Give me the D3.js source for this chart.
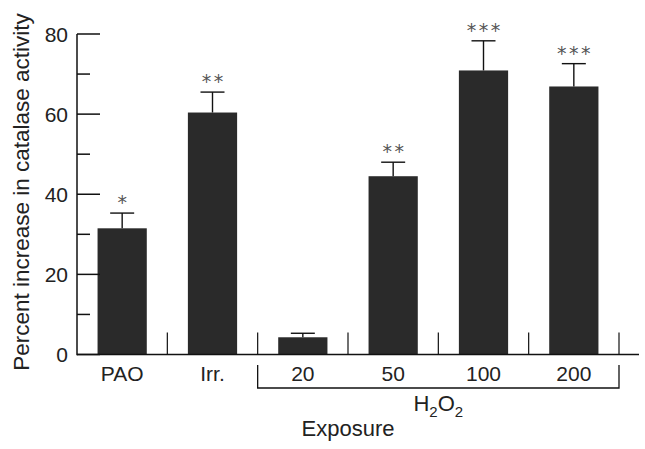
<!DOCTYPE html>
<html>
<head>
<meta charset="utf-8">
<script src="https://cdn.jsdelivr.net/npm/d3@7"></script>
<style>
  html, body { margin: 0; padding: 0; background: #fff; }
  svg { display: block; }
  text { font-family: "Liberation Sans", Arial, sans-serif; fill: #222; }
</style>
</head>
<body>
<svg id="chart" width="645" height="449"></svg>
<script>
const categories = ["PAO", "Irr.", "20", "50", "100", "200"];
const means = [31.5, 60.4, 4.3, 44.5, 70.9, 66.9];
const errors = [3.8, 5.1, 1.0, 3.5, 7.4, 5.7];
const significance = ["*", "**", "", "**", "***", "***"];
const majorTicks = [0, 20, 40, 60, 80];
const minorTicks = [10, 30, 50, 70];
const yLabel = "Percent increase in catalase activity";
const xLabel = "Exposure";
const groupCategories = ["20", "50", "100", "200"];

const svg = d3.select("#chart");
const x0 = 77, x1 = 619, axisEnd = 639;
const yTop = 34, yBottom = 354.5;

const x = d3.scaleBand().domain(categories).range([x0, x1]).padding(0);
const y = d3.scaleLinear().domain([0, 80]).range([yBottom, yTop]);
const barW = x.bandwidth() * 0.545;
const ink = "#111";

// Bars
svg.append("g").selectAll("rect").data(categories).join("rect")
  .attr("x", (d) => x(d) + x.bandwidth() / 2 - barW / 2)
  .attr("y", (d, i) => y(means[i]))
  .attr("width", barW)
  .attr("height", (d, i) => y(0) - y(means[i]))
  .attr("fill", "#2a2a2a");

// Error bars
const eg = svg.append("g").attr("stroke", ink).attr("stroke-width", 1.4);
categories.forEach((c, i) => {
  const cx = x(c) + x.bandwidth() / 2;
  eg.append("line").attr("x1", cx).attr("x2", cx)
    .attr("y1", y(means[i])).attr("y2", y(means[i] + errors[i]));
  eg.append("line").attr("x1", cx - 12).attr("x2", cx + 12)
    .attr("y1", y(means[i] + errors[i])).attr("y2", y(means[i] + errors[i]));
});

// Significance stars (one glyph each, 12 px apart)
const sg = svg.append("g");
categories.forEach((c, i) => {
  const n = significance[i].length;
  const cx = x(c) + x.bandwidth() / 2;
  for (let k = 0; k < n; k++) {
    sg.append("text")
      .attr("x", cx + (k - (n - 1) / 2) * 12)
      .attr("y", y(means[i] + errors[i]) - 4)
      .attr("text-anchor", "middle")
      .attr("font-size", 19)
      .style("font-family", "'DejaVu Sans', sans-serif")
      .style("fill", "#555")
      .text("*");
  }
});

// Y axis
const yAxis = svg.append("g").attr("stroke", ink).attr("stroke-width", 1.5);
yAxis.append("line").attr("x1", x0).attr("x2", x0).attr("y1", y(80)).attr("y2", yBottom + 0.75);
majorTicks.forEach((t) => {
  yAxis.append("line").attr("x1", x0).attr("x2", x0 + 23).attr("y1", y(t)).attr("y2", y(t));
});
minorTicks.forEach((t) => {
  yAxis.append("line").attr("x1", x0).attr("x2", x0 + 13).attr("y1", y(t)).attr("y2", y(t));
});
svg.append("g").selectAll("text").data(majorTicks).join("text")
  .attr("x", 68).attr("y", (d) => y(d))
  .attr("dy", "0.36em")
  .attr("text-anchor", "end")
  .attr("font-size", 21)
  .text((d) => d);

// X axis baseline
const xAxis = svg.append("g").attr("stroke", ink).attr("stroke-width", 1.5);
xAxis.append("line").attr("x1", x0).attr("x2", axisEnd).attr("y1", yBottom).attr("y2", yBottom);
categories.forEach((c) => {
  const bx = x(c) + x.bandwidth();
  xAxis.append("line").attr("x1", bx).attr("x2", bx).attr("y1", yBottom).attr("y2", yBottom - 22)
    .attr("stroke-width", 1.2);
});

// Category labels
svg.append("g").selectAll("text").data(categories).join("text")
  .attr("x", (d) => x(d) + x.bandwidth() / 2)
  .attr("y", 381)
  .attr("text-anchor", "middle")
  .attr("font-size", 21)
  .text((d) => d);

// H2O2 bracket
const bL = x(groupCategories[0]);
const bR = x(groupCategories[groupCategories.length - 1]) + x.bandwidth();
svg.append("path")
  .attr("d", `M${bL},365V388H${bR}V365`)
  .attr("fill", "none").attr("stroke", ink).attr("stroke-width", 1.3);

const h = svg.append("text")
  .attr("x", (bL + bR) / 2).attr("y", 411)
  .attr("text-anchor", "middle")
  .attr("font-size", 22);
h.append("tspan").text("H");
h.append("tspan").attr("font-size", 15).attr("dy", 6).text("2");
h.append("tspan").attr("dy", -6).text("O");
h.append("tspan").attr("font-size", 15).attr("dy", 6).text("2");

// Axis titles
svg.append("text")
  .attr("x", (x0 + x1) / 2).attr("y", 436)
  .attr("text-anchor", "middle")
  .attr("font-size", 22)
  .text(xLabel);

svg.append("text")
  .attr("transform", `translate(29,192) rotate(-90)`)
  .attr("text-anchor", "middle")
  .attr("font-size", 22.5)
  .text(yLabel);
</script>
</body>
</html>
